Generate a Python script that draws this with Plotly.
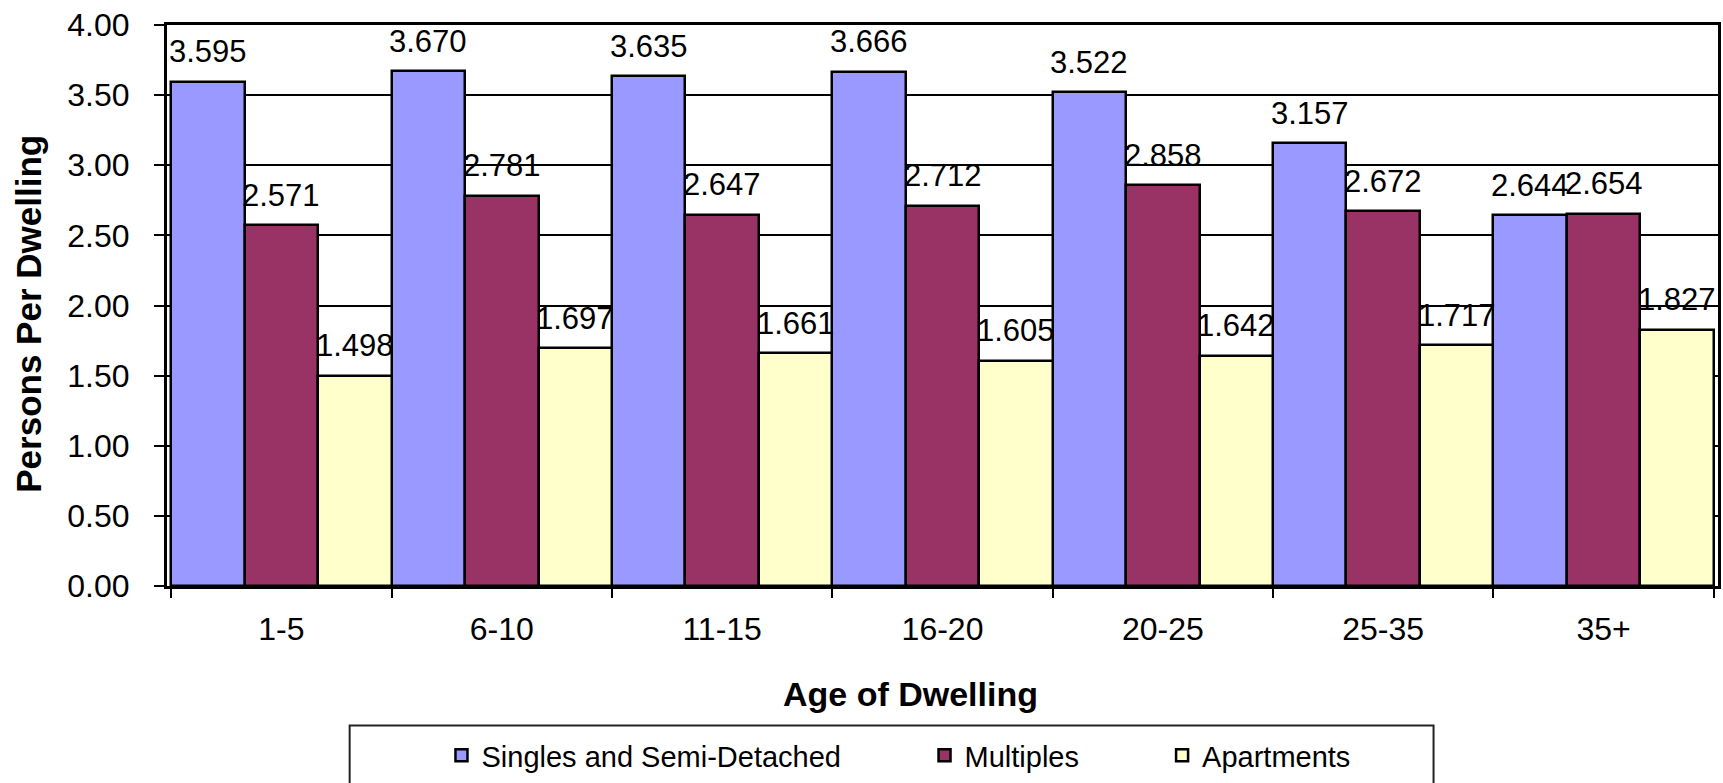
import plotly.graph_objects as go

# Persons per dwelling by age of dwelling and structure type
age_groups = ["1-5", "6-10", "11-15", "16-20", "20-25", "25-35", "35+"]
singles = [3.595, 3.670, 3.635, 3.666, 3.522, 3.157, 2.644]
multiples = [2.571, 2.781, 2.647, 2.712, 2.858, 2.672, 2.654]
apartments = [1.498, 1.697, 1.661, 1.605, 1.642, 1.717, 1.827]

series = [
    ("Singles and Semi-Detached", singles, "#9999FF", "legend"),
    ("Multiples", multiples, "#993366", "legend2"),
    ("Apartments", apartments, "#FFFFCC", "legend3"),
]

FONT = "Liberation Sans, Arial, sans-serif"

W, H = 1723, 783
ML, MR, MT, MB = 167, 2, 25, 195
PW = W - ML - MR
PH = H - MT - MB


def px_to_paper_x(px):
    return (px - ML) / PW


def px_to_paper_y(py):
    return (H - MB - py) / PH


fig = go.Figure()
for name, vals, color, leg in series:
    fig.add_trace(go.Bar(
        name=name,
        x=age_groups,
        y=vals,
        marker=dict(color=color, line=dict(color="black", width=2.5)),
        legend=leg,
        showlegend=True,
    ))

# value labels above each bar
annotations = []
n_series = len(series)
for j, (name, vals, color, leg) in enumerate(series):
    for i, v in enumerate(vals):
        annotations.append(dict(
            x=i + (j - (n_series - 1) / 2) / n_series,
            y=v,
            xref="x", yref="y",
            text=f"{v:.3f}",
            showarrow=False,
            yanchor="middle",
            yshift=30,
            font=dict(family=FONT, size=31, color="black"),
        ))

# axis titles
annotations.append(dict(
    x=px_to_paper_x(912), y=px_to_paper_y(696),
    xref="paper", yref="paper",
    text="<b>Age of Dwelling</b>", showarrow=False,
    xanchor="center", yanchor="middle",
    font=dict(family=FONT, size=34, color="black"),
))
annotations.append(dict(
    x=px_to_paper_x(28.5), y=px_to_paper_y(315),
    xref="paper", yref="paper",
    text="<b>Persons Per Dwelling</b>", showarrow=False,
    textangle=-90,
    xanchor="center", yanchor="middle",
    font=dict(family=FONT, size=35, color="black"),
))

legend_common = dict(
    orientation="h",
    xanchor="left",
    yanchor="middle",
    y=px_to_paper_y(758),
    bgcolor="rgba(0,0,0,0)",
    borderwidth=0,
    font=dict(family=FONT, size=29, color="black"),
    itemclick=False,
    itemdoubleclick=False,
)

fig.update_layout(
    width=W, height=H,
    margin=dict(l=ML, r=MR, t=MT, b=MB, pad=0),
    paper_bgcolor="white",
    plot_bgcolor="white",
    barmode="group",
    bargap=0,
    bargroupgap=0,
    showlegend=True,
    font=dict(family=FONT, size=30, color="black"),
    annotations=annotations,
    legend=dict(x=px_to_paper_x(442), **legend_common),
    legend2=dict(x=px_to_paper_x(926), **legend_common),
    legend3=dict(x=px_to_paper_x(1164), **legend_common),
    shapes=[dict(
        type="rect", xref="paper", yref="paper",
        x0=px_to_paper_x(350), x1=px_to_paper_x(1436),
        y0=px_to_paper_y(728), y1=px_to_paper_y(800),
        line=dict(color="#222222", width=2),
        fillcolor="rgba(0,0,0,0)",
        layer="below",
    )],
    xaxis=dict(
        type="category",
        tickson="boundaries",
        ticks="outside",
        ticklen=9,
        tickwidth=2,
        tickcolor="black",
        showline=True,
        linecolor="black",
        linewidth=3,
        mirror=True,
        showgrid=False,
        ticklabelstandoff=13,
        tickfont=dict(family=FONT, size=32, color="black"),
    ),
    yaxis=dict(
        range=[0, 4],
        dtick=0.5,
        tick0=0,
        tickformat=".2f",
        ticks="outside",
        ticklen=10,
        tickwidth=2,
        tickcolor="black",
        showline=True,
        linecolor="black",
        linewidth=3,
        mirror=True,
        showgrid=True,
        gridcolor="black",
        gridwidth=2,
        zeroline=False,
        ticklabelstandoff=18,
        tickfont=dict(family=FONT, size=32, color="black"),
    ),
)

fig.write_html("out.html")
